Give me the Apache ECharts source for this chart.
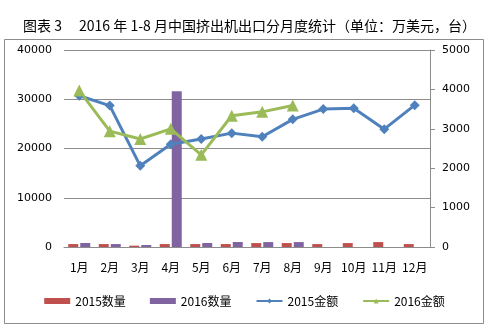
<!DOCTYPE html>
<html>
<head>
<meta charset="utf-8">
<script src="https://cdn.jsdelivr.net/npm/echarts@6/dist/echarts.min.js"></script>
<style>
  html, body { margin: 0; padding: 0; background: #fff; }
  #chart { width: 489px; height: 330px; }
</style>
</head>
<body>
<div id="chart"></div>
<script>
// Monthly extruder exports: quantity (台) on the left axis, value (万美元) on the right axis
const months = ['1月', '2月', '3月', '4月', '5月', '6月', '7月', '8月', '9月', '10月', '11月', '12月'];
const qty2015 = [600, 600, 270, 600, 600, 600, 800, 800, 600, 800, 1000, 600];
const qty2016 = [810, 600, 400, 31600, 810, 1010, 1000, 1000, null, null, null, null];
const amount2015 = [3840, 3590, 2060, 2610, 2740, 2890, 2800, 3240, 3500, 3520, 2990, 3600];
const amount2016 = [3970, 2940, 2740, 3000, 2340, 3330, 3430, 3590, null, null, null, null];
const leftTicks = { min: 0, max: 40000, interval: 10000 };
const rightTicks = { min: 0, max: 5000, interval: 1000 };

const numFont = 'DejaVu Sans, Noto Sans CJK SC, sans-serif';
const cjkFont = 'Noto Sans CJK SC, sans-serif';
const plain = v => String(v);

const chart = echarts.init(document.getElementById('chart'));
chart.setOption({
  animation: false,
  backgroundColor: '#fff',
  title: {
    text: '图表 3\u2003 2016 年 1-8 月中国挤出机出口分月度统计（单位：万美元，台）',
    left: 18,
    top: 14,
    textStyle: { fontFamily: cjkFont, fontSize: 14, fontWeight: 'normal', color: '#000' }
  },
  graphic: [{
    type: 'rect',
    shape: { x: 4.5, y: 39.5, width: 479, height: 284 },
    style: { fill: 'none', stroke: '#8c8c8c', lineWidth: 1 },
    silent: true
  }],
  grid: { left: 64, right: 59, top: 50, bottom: 83 },
  legend: {
    bottom: 18,
    left: 'center',
    itemGap: 24,
    itemWidth: 26,
    itemHeight: 6,
    textStyle: { fontFamily: cjkFont, fontSize: 12, color: '#000' },
    data: [
      { name: '2015数量', icon: 'rect' },
      { name: '2016数量', icon: 'rect' },
      { name: '2015金额' },
      { name: '2016金额' }
    ]
  },
  xAxis: {
    type: 'category',
    data: months,
    axisLine: { lineStyle: { color: '#8c8c8c' } },
    axisTick: { show: false },
    axisLabel: { interval: 0, fontFamily: cjkFont, fontSize: 12, color: '#000', margin: 14 }
  },
  yAxis: [{
    type: 'value',
    min: leftTicks.min, max: leftTicks.max, interval: leftTicks.interval,
    axisLine: { show: false },
    axisTick: { show: false },
    splitLine: { lineStyle: { color: '#8c8c8c' } },
    axisLabel: { formatter: plain, fontFamily: numFont, fontSize: 11, color: '#000', margin: 12 }
  }, {
    type: 'value',
    min: rightTicks.min, max: rightTicks.max, interval: rightTicks.interval,
    axisLine: { show: true, lineStyle: { color: '#8c8c8c' } },
    axisTick: { show: true, length: 5, lineStyle: { color: '#8c8c8c' } },
    splitLine: { show: false },
    axisLabel: { formatter: plain, fontFamily: numFont, fontSize: 11, color: '#000', margin: 12 }
  }],
  series: [{
    name: '2015数量',
    type: 'bar',
    yAxisIndex: 0,
    data: qty2015,
    barWidth: 10,
    barGap: '20%',
    itemStyle: { color: '#C0504D' }
  }, {
    name: '2016数量',
    type: 'bar',
    yAxisIndex: 0,
    data: qty2016,
    barWidth: 10,
    barGap: '20%',
    itemStyle: { color: '#8064A2' }
  }, {
    name: '2015金额',
    type: 'line',
    yAxisIndex: 1,
    data: amount2015,
    symbol: 'diamond',
    symbolSize: 10,
    lineStyle: { width: 3, color: '#4F81BD' },
    itemStyle: { color: '#4F81BD' }
  }, {
    name: '2016金额',
    type: 'line',
    yAxisIndex: 1,
    data: amount2016,
    symbol: 'triangle',
    symbolSize: 12,
    lineStyle: { width: 3, color: '#9BBB59' },
    itemStyle: { color: '#9BBB59' }
  }]
});
</script>
</body>
</html>
